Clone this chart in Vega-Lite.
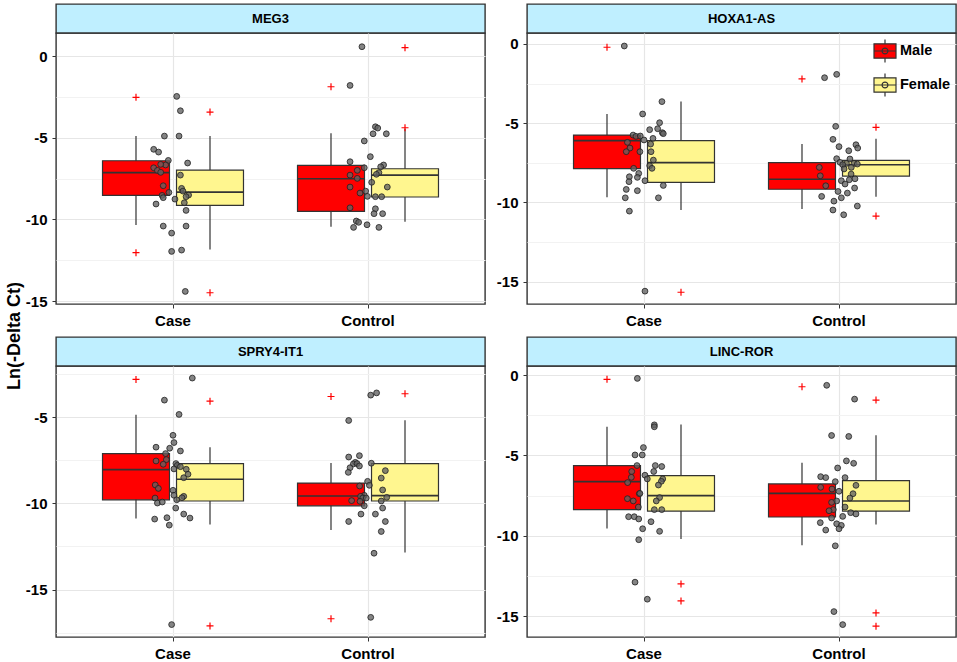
{
  "$schema": "https://vega.github.io/schema/vega-lite/v6.json",
  "padding": {"left": 0, "top": 3, "right": 3, "bottom": 0},
  "background": "white",
  "datasets": {
    "boxes": [
      {"gene": "MEG3", "group": "Case", "sex": "Male", "lo": -10.35, "q1": -8.53, "med": -7.14, "q3": -6.41, "hi": -4.90},
      {"gene": "MEG3", "group": "Case", "sex": "Female", "lo": -11.84, "q1": -9.14, "med": -8.33, "q3": -6.98, "hi": -4.90},
      {"gene": "MEG3", "group": "Control", "sex": "Male", "lo": -10.45, "q1": -9.51, "med": -7.51, "q3": -6.69, "hi": -4.73},
      {"gene": "MEG3", "group": "Control", "sex": "Female", "lo": -10.14, "q1": -8.63, "med": -7.29, "q3": -6.90, "hi": -4.45},
      {"gene": "HOXA1-AS", "group": "Case", "sex": "Male", "lo": -9.68, "q1": -7.87, "med": -6.10, "q3": -5.75, "hi": -4.42},
      {"gene": "HOXA1-AS", "group": "Case", "sex": "Female", "lo": -10.48, "q1": -8.73, "med": -7.49, "q3": -6.10, "hi": -3.64},
      {"gene": "HOXA1-AS", "group": "Control", "sex": "Male", "lo": -10.42, "q1": -9.17, "med": -8.54, "q3": -7.49, "hi": -6.31},
      {"gene": "HOXA1-AS", "group": "Control", "sex": "Female", "lo": -9.64, "q1": -8.34, "med": -7.62, "q3": -7.35, "hi": -5.98},
      {"gene": "SPRY4-IT1", "group": "Case", "sex": "Male", "lo": -10.87, "q1": -9.79, "med": -8.04, "q3": -7.11, "hi": -4.86},
      {"gene": "SPRY4-IT1", "group": "Case", "sex": "Female", "lo": -11.22, "q1": -9.86, "med": -8.60, "q3": -7.69, "hi": -6.74},
      {"gene": "SPRY4-IT1", "group": "Control", "sex": "Male", "lo": -11.55, "q1": -10.14, "med": -9.57, "q3": -8.82, "hi": -7.66},
      {"gene": "SPRY4-IT1", "group": "Control", "sex": "Female", "lo": -12.85, "q1": -9.86, "med": -9.55, "q3": -7.69, "hi": -5.17},
      {"gene": "LINC-ROR", "group": "Case", "sex": "Male", "lo": -9.54, "q1": -8.37, "med": -6.63, "q3": -5.63, "hi": -3.22},
      {"gene": "LINC-ROR", "group": "Case", "sex": "Female", "lo": -10.20, "q1": -8.46, "med": -7.50, "q3": -6.25, "hi": -3.07},
      {"gene": "LINC-ROR", "group": "Control", "sex": "Male", "lo": -10.58, "q1": -8.83, "med": -7.36, "q3": -6.77, "hi": -5.46},
      {"gene": "LINC-ROR", "group": "Control", "sex": "Female", "lo": -9.29, "q1": -8.46, "med": -7.83, "q3": -6.57, "hi": -3.74}
    ],
    "outliers": [
      {"gene": "MEG3", "group": "Case", "sex": "Male", "value": -2.53},
      {"gene": "MEG3", "group": "Case", "sex": "Male", "value": -12.04},
      {"gene": "MEG3", "group": "Case", "sex": "Female", "value": -3.43},
      {"gene": "MEG3", "group": "Case", "sex": "Female", "value": -14.49},
      {"gene": "MEG3", "group": "Control", "sex": "Male", "value": -1.88},
      {"gene": "MEG3", "group": "Control", "sex": "Female", "value": 0.51},
      {"gene": "MEG3", "group": "Control", "sex": "Female", "value": -4.39},
      {"gene": "HOXA1-AS", "group": "Case", "sex": "Male", "value": -0.21},
      {"gene": "HOXA1-AS", "group": "Case", "sex": "Female", "value": -15.67},
      {"gene": "HOXA1-AS", "group": "Control", "sex": "Male", "value": -2.21},
      {"gene": "HOXA1-AS", "group": "Control", "sex": "Female", "value": -5.26},
      {"gene": "HOXA1-AS", "group": "Control", "sex": "Female", "value": -10.86},
      {"gene": "SPRY4-IT1", "group": "Case", "sex": "Male", "value": -2.81},
      {"gene": "SPRY4-IT1", "group": "Case", "sex": "Female", "value": -4.07},
      {"gene": "SPRY4-IT1", "group": "Case", "sex": "Female", "value": -17.11},
      {"gene": "SPRY4-IT1", "group": "Control", "sex": "Male", "value": -3.80},
      {"gene": "SPRY4-IT1", "group": "Control", "sex": "Male", "value": -16.69},
      {"gene": "SPRY4-IT1", "group": "Control", "sex": "Female", "value": -3.64},
      {"gene": "LINC-ROR", "group": "Case", "sex": "Male", "value": -0.27},
      {"gene": "LINC-ROR", "group": "Case", "sex": "Female", "value": -12.99},
      {"gene": "LINC-ROR", "group": "Case", "sex": "Female", "value": -14.05},
      {"gene": "LINC-ROR", "group": "Control", "sex": "Male", "value": -0.73},
      {"gene": "LINC-ROR", "group": "Control", "sex": "Female", "value": -1.56},
      {"gene": "LINC-ROR", "group": "Control", "sex": "Female", "value": -14.79},
      {"gene": "LINC-ROR", "group": "Control", "sex": "Female", "value": -15.62}
    ],
    "points": [
      {"gene": "MEG3", "group": "Case", "jitter": 0.019, "value": -2.47},
      {"gene": "MEG3", "group": "Case", "jitter": 0.038, "value": -3.35},
      {"gene": "MEG3", "group": "Case", "jitter": -0.044, "value": -4.90},
      {"gene": "MEG3", "group": "Case", "jitter": 0.031, "value": -4.90},
      {"gene": "MEG3", "group": "Case", "jitter": -0.099, "value": -5.71},
      {"gene": "MEG3", "group": "Case", "jitter": -0.074, "value": -5.88},
      {"gene": "MEG3", "group": "Case", "jitter": -0.024, "value": -6.39},
      {"gene": "MEG3", "group": "Case", "jitter": 0.075, "value": -6.55},
      {"gene": "MEG3", "group": "Case", "jitter": -0.038, "value": -6.67},
      {"gene": "MEG3", "group": "Case", "jitter": -0.063, "value": -6.63},
      {"gene": "MEG3", "group": "Case", "jitter": -0.099, "value": -6.84},
      {"gene": "MEG3", "group": "Case", "jitter": -0.080, "value": -7.00},
      {"gene": "MEG3", "group": "Case", "jitter": -0.063, "value": -7.12},
      {"gene": "MEG3", "group": "Case", "jitter": 0.038, "value": -7.29},
      {"gene": "MEG3", "group": "Case", "jitter": -0.050, "value": -7.94},
      {"gene": "MEG3", "group": "Case", "jitter": 0.044, "value": -8.10},
      {"gene": "MEG3", "group": "Case", "jitter": 0.051, "value": -8.27},
      {"gene": "MEG3", "group": "Case", "jitter": -0.021, "value": -8.35},
      {"gene": "MEG3", "group": "Case", "jitter": -0.056, "value": -8.53},
      {"gene": "MEG3", "group": "Case", "jitter": 0.080, "value": -8.51},
      {"gene": "MEG3", "group": "Case", "jitter": -0.050, "value": -8.67},
      {"gene": "MEG3", "group": "Case", "jitter": 0.010, "value": -8.76},
      {"gene": "MEG3", "group": "Case", "jitter": 0.067, "value": -8.61},
      {"gene": "MEG3", "group": "Case", "jitter": 0.058, "value": -8.98},
      {"gene": "MEG3", "group": "Case", "jitter": -0.087, "value": -9.06},
      {"gene": "MEG3", "group": "Case", "jitter": 0.067, "value": -9.45},
      {"gene": "MEG3", "group": "Case", "jitter": -0.050, "value": -10.41},
      {"gene": "MEG3", "group": "Case", "jitter": 0.067, "value": -10.41},
      {"gene": "MEG3", "group": "Case", "jitter": -0.007, "value": -10.84},
      {"gene": "MEG3", "group": "Case", "jitter": -0.007, "value": -11.96},
      {"gene": "MEG3", "group": "Case", "jitter": 0.044, "value": -11.88},
      {"gene": "MEG3", "group": "Case", "jitter": 0.063, "value": -14.41},
      {"gene": "MEG3", "group": "Control", "jitter": -0.031, "value": 0.57},
      {"gene": "MEG3", "group": "Control", "jitter": -0.092, "value": -1.80},
      {"gene": "MEG3", "group": "Control", "jitter": 0.038, "value": -4.33},
      {"gene": "MEG3", "group": "Control", "jitter": 0.050, "value": -4.41},
      {"gene": "MEG3", "group": "Control", "jitter": 0.026, "value": -4.76},
      {"gene": "MEG3", "group": "Control", "jitter": 0.094, "value": -4.76},
      {"gene": "MEG3", "group": "Control", "jitter": -0.019, "value": -5.20},
      {"gene": "MEG3", "group": "Control", "jitter": 0.012, "value": -6.16},
      {"gene": "MEG3", "group": "Control", "jitter": -0.092, "value": -6.47},
      {"gene": "MEG3", "group": "Control", "jitter": 0.080, "value": -6.67},
      {"gene": "MEG3", "group": "Control", "jitter": 0.065, "value": -6.78},
      {"gene": "MEG3", "group": "Control", "jitter": -0.019, "value": -6.84},
      {"gene": "MEG3", "group": "Control", "jitter": -0.055, "value": -7.00},
      {"gene": "MEG3", "group": "Control", "jitter": -0.092, "value": -7.29},
      {"gene": "MEG3", "group": "Control", "jitter": 0.056, "value": -7.14},
      {"gene": "MEG3", "group": "Control", "jitter": 0.043, "value": -7.24},
      {"gene": "MEG3", "group": "Control", "jitter": -0.055, "value": -7.49},
      {"gene": "MEG3", "group": "Control", "jitter": 0.019, "value": -7.73},
      {"gene": "MEG3", "group": "Control", "jitter": -0.092, "value": -8.02},
      {"gene": "MEG3", "group": "Control", "jitter": 0.099, "value": -8.02},
      {"gene": "MEG3", "group": "Control", "jitter": -0.012, "value": -8.27},
      {"gene": "MEG3", "group": "Control", "jitter": -0.041, "value": -8.39},
      {"gene": "MEG3", "group": "Control", "jitter": -0.003, "value": -8.59},
      {"gene": "MEG3", "group": "Control", "jitter": 0.038, "value": -8.61},
      {"gene": "MEG3", "group": "Control", "jitter": 0.070, "value": -8.61},
      {"gene": "MEG3", "group": "Control", "jitter": -0.092, "value": -9.29},
      {"gene": "MEG3", "group": "Control", "jitter": 0.038, "value": -9.35},
      {"gene": "MEG3", "group": "Control", "jitter": 0.031, "value": -9.65},
      {"gene": "MEG3", "group": "Control", "jitter": 0.075, "value": -9.65},
      {"gene": "MEG3", "group": "Control", "jitter": -0.060, "value": -10.10},
      {"gene": "MEG3", "group": "Control", "jitter": -0.048, "value": -10.18},
      {"gene": "MEG3", "group": "Control", "jitter": -0.074, "value": -10.49},
      {"gene": "MEG3", "group": "Control", "jitter": -0.005, "value": -10.33},
      {"gene": "MEG3", "group": "Control", "jitter": 0.056, "value": -10.49},
      {"gene": "HOXA1-AS", "group": "Case", "jitter": -0.101, "value": -0.13},
      {"gene": "HOXA1-AS", "group": "Case", "jitter": 0.092, "value": -3.64},
      {"gene": "HOXA1-AS", "group": "Case", "jitter": -0.007, "value": -4.42},
      {"gene": "HOXA1-AS", "group": "Case", "jitter": 0.080, "value": -4.97},
      {"gene": "HOXA1-AS", "group": "Case", "jitter": 0.029, "value": -5.41},
      {"gene": "HOXA1-AS", "group": "Case", "jitter": 0.070, "value": -5.35},
      {"gene": "HOXA1-AS", "group": "Case", "jitter": 0.094, "value": -5.60},
      {"gene": "HOXA1-AS", "group": "Case", "jitter": 0.099, "value": -5.66},
      {"gene": "HOXA1-AS", "group": "Case", "jitter": -0.056, "value": -5.75},
      {"gene": "HOXA1-AS", "group": "Case", "jitter": -0.041, "value": -5.83},
      {"gene": "HOXA1-AS", "group": "Case", "jitter": -0.019, "value": -5.81},
      {"gene": "HOXA1-AS", "group": "Case", "jitter": 0.046, "value": -5.96},
      {"gene": "HOXA1-AS", "group": "Case", "jitter": 0.000, "value": -6.06},
      {"gene": "HOXA1-AS", "group": "Case", "jitter": -0.085, "value": -6.21},
      {"gene": "HOXA1-AS", "group": "Case", "jitter": -0.072, "value": -6.57},
      {"gene": "HOXA1-AS", "group": "Case", "jitter": 0.034, "value": -6.32},
      {"gene": "HOXA1-AS", "group": "Case", "jitter": -0.091, "value": -6.80},
      {"gene": "HOXA1-AS", "group": "Case", "jitter": -0.021, "value": -6.80},
      {"gene": "HOXA1-AS", "group": "Case", "jitter": 0.036, "value": -6.80},
      {"gene": "HOXA1-AS", "group": "Case", "jitter": 0.048, "value": -7.33},
      {"gene": "HOXA1-AS", "group": "Case", "jitter": 0.029, "value": -7.68},
      {"gene": "HOXA1-AS", "group": "Case", "jitter": 0.041, "value": -7.85},
      {"gene": "HOXA1-AS", "group": "Case", "jitter": -0.053, "value": -7.85},
      {"gene": "HOXA1-AS", "group": "Case", "jitter": -0.027, "value": -8.17},
      {"gene": "HOXA1-AS", "group": "Case", "jitter": -0.075, "value": -8.38},
      {"gene": "HOXA1-AS", "group": "Case", "jitter": -0.034, "value": -8.42},
      {"gene": "HOXA1-AS", "group": "Case", "jitter": -0.077, "value": -8.69},
      {"gene": "HOXA1-AS", "group": "Case", "jitter": 0.005, "value": -8.63},
      {"gene": "HOXA1-AS", "group": "Case", "jitter": 0.099, "value": -8.93},
      {"gene": "HOXA1-AS", "group": "Case", "jitter": -0.091, "value": -9.18},
      {"gene": "HOXA1-AS", "group": "Case", "jitter": -0.034, "value": -9.26},
      {"gene": "HOXA1-AS", "group": "Case", "jitter": -0.096, "value": -9.71},
      {"gene": "HOXA1-AS", "group": "Case", "jitter": 0.074, "value": -9.71},
      {"gene": "HOXA1-AS", "group": "Case", "jitter": -0.075, "value": -10.55},
      {"gene": "HOXA1-AS", "group": "Case", "jitter": 0.005, "value": -15.60},
      {"gene": "HOXA1-AS", "group": "Control", "jitter": -0.012, "value": -1.92},
      {"gene": "HOXA1-AS", "group": "Control", "jitter": -0.074, "value": -2.13},
      {"gene": "HOXA1-AS", "group": "Control", "jitter": -0.017, "value": -5.20},
      {"gene": "HOXA1-AS", "group": "Control", "jitter": -0.031, "value": -6.02},
      {"gene": "HOXA1-AS", "group": "Control", "jitter": 0.000, "value": -6.48},
      {"gene": "HOXA1-AS", "group": "Control", "jitter": 0.087, "value": -6.36},
      {"gene": "HOXA1-AS", "group": "Control", "jitter": 0.096, "value": -6.57},
      {"gene": "HOXA1-AS", "group": "Control", "jitter": 0.050, "value": -6.74},
      {"gene": "HOXA1-AS", "group": "Control", "jitter": -0.012, "value": -7.24},
      {"gene": "HOXA1-AS", "group": "Control", "jitter": 0.056, "value": -7.26},
      {"gene": "HOXA1-AS", "group": "Control", "jitter": 0.005, "value": -7.47},
      {"gene": "HOXA1-AS", "group": "Control", "jitter": 0.038, "value": -7.54},
      {"gene": "HOXA1-AS", "group": "Control", "jitter": 0.077, "value": -7.54},
      {"gene": "HOXA1-AS", "group": "Control", "jitter": 0.019, "value": -7.62},
      {"gene": "HOXA1-AS", "group": "Control", "jitter": 0.094, "value": -7.58},
      {"gene": "HOXA1-AS", "group": "Control", "jitter": 0.063, "value": -7.79},
      {"gene": "HOXA1-AS", "group": "Control", "jitter": -0.101, "value": -7.79},
      {"gene": "HOXA1-AS", "group": "Control", "jitter": 0.026, "value": -7.89},
      {"gene": "HOXA1-AS", "group": "Control", "jitter": 0.062, "value": -8.21},
      {"gene": "HOXA1-AS", "group": "Control", "jitter": -0.096, "value": -8.32},
      {"gene": "HOXA1-AS", "group": "Control", "jitter": 0.012, "value": -8.63},
      {"gene": "HOXA1-AS", "group": "Control", "jitter": 0.053, "value": -8.57},
      {"gene": "HOXA1-AS", "group": "Control", "jitter": 0.082, "value": -8.51},
      {"gene": "HOXA1-AS", "group": "Control", "jitter": 0.031, "value": -8.84},
      {"gene": "HOXA1-AS", "group": "Control", "jitter": -0.068, "value": -8.95},
      {"gene": "HOXA1-AS", "group": "Control", "jitter": 0.080, "value": -9.09},
      {"gene": "HOXA1-AS", "group": "Control", "jitter": -0.005, "value": -9.31},
      {"gene": "HOXA1-AS", "group": "Control", "jitter": 0.043, "value": -9.41},
      {"gene": "HOXA1-AS", "group": "Control", "jitter": -0.089, "value": -9.62},
      {"gene": "HOXA1-AS", "group": "Control", "jitter": 0.012, "value": -9.71},
      {"gene": "HOXA1-AS", "group": "Control", "jitter": -0.026, "value": -9.92},
      {"gene": "HOXA1-AS", "group": "Control", "jitter": 0.094, "value": -10.23},
      {"gene": "HOXA1-AS", "group": "Control", "jitter": -0.031, "value": -10.48},
      {"gene": "HOXA1-AS", "group": "Control", "jitter": 0.024, "value": -10.78},
      {"gene": "SPRY4-IT1", "group": "Case", "jitter": 0.099, "value": -2.73},
      {"gene": "SPRY4-IT1", "group": "Case", "jitter": -0.044, "value": -4.01},
      {"gene": "SPRY4-IT1", "group": "Case", "jitter": 0.031, "value": -4.84},
      {"gene": "SPRY4-IT1", "group": "Case", "jitter": 0.000, "value": -6.05},
      {"gene": "SPRY4-IT1", "group": "Case", "jitter": 0.005, "value": -6.47},
      {"gene": "SPRY4-IT1", "group": "Case", "jitter": -0.087, "value": -6.74},
      {"gene": "SPRY4-IT1", "group": "Case", "jitter": -0.017, "value": -6.80},
      {"gene": "SPRY4-IT1", "group": "Case", "jitter": 0.038, "value": -6.96},
      {"gene": "SPRY4-IT1", "group": "Case", "jitter": -0.038, "value": -7.11},
      {"gene": "SPRY4-IT1", "group": "Case", "jitter": -0.087, "value": -7.54},
      {"gene": "SPRY4-IT1", "group": "Case", "jitter": -0.034, "value": -7.46},
      {"gene": "SPRY4-IT1", "group": "Case", "jitter": -0.050, "value": -7.73},
      {"gene": "SPRY4-IT1", "group": "Case", "jitter": 0.015, "value": -7.69},
      {"gene": "SPRY4-IT1", "group": "Case", "jitter": 0.022, "value": -7.79},
      {"gene": "SPRY4-IT1", "group": "Case", "jitter": 0.038, "value": -7.87},
      {"gene": "SPRY4-IT1", "group": "Case", "jitter": 0.005, "value": -8.00},
      {"gene": "SPRY4-IT1", "group": "Case", "jitter": 0.068, "value": -8.02},
      {"gene": "SPRY4-IT1", "group": "Case", "jitter": 0.077, "value": -8.31},
      {"gene": "SPRY4-IT1", "group": "Case", "jitter": 0.055, "value": -8.51},
      {"gene": "SPRY4-IT1", "group": "Case", "jitter": -0.091, "value": -8.93},
      {"gene": "SPRY4-IT1", "group": "Case", "jitter": -0.075, "value": -9.13},
      {"gene": "SPRY4-IT1", "group": "Case", "jitter": 0.000, "value": -9.24},
      {"gene": "SPRY4-IT1", "group": "Case", "jitter": 0.005, "value": -9.53},
      {"gene": "SPRY4-IT1", "group": "Case", "jitter": 0.055, "value": -9.59},
      {"gene": "SPRY4-IT1", "group": "Case", "jitter": -0.092, "value": -9.69},
      {"gene": "SPRY4-IT1", "group": "Case", "jitter": 0.019, "value": -9.79},
      {"gene": "SPRY4-IT1", "group": "Case", "jitter": -0.080, "value": -9.98},
      {"gene": "SPRY4-IT1", "group": "Case", "jitter": -0.055, "value": -9.92},
      {"gene": "SPRY4-IT1", "group": "Case", "jitter": 0.014, "value": -10.27},
      {"gene": "SPRY4-IT1", "group": "Case", "jitter": 0.055, "value": -10.62},
      {"gene": "SPRY4-IT1", "group": "Case", "jitter": -0.094, "value": -10.91},
      {"gene": "SPRY4-IT1", "group": "Case", "jitter": -0.031, "value": -10.83},
      {"gene": "SPRY4-IT1", "group": "Case", "jitter": 0.087, "value": -10.85},
      {"gene": "SPRY4-IT1", "group": "Case", "jitter": -0.019, "value": -11.26},
      {"gene": "SPRY4-IT1", "group": "Case", "jitter": -0.007, "value": -17.03},
      {"gene": "SPRY4-IT1", "group": "Case", "jitter": 0.046, "value": -9.67},
      {"gene": "SPRY4-IT1", "group": "Control", "jitter": 0.014, "value": -3.72},
      {"gene": "SPRY4-IT1", "group": "Control", "jitter": 0.044, "value": -3.59},
      {"gene": "SPRY4-IT1", "group": "Control", "jitter": -0.099, "value": -5.19},
      {"gene": "SPRY4-IT1", "group": "Control", "jitter": -0.099, "value": -7.31},
      {"gene": "SPRY4-IT1", "group": "Control", "jitter": -0.044, "value": -7.23},
      {"gene": "SPRY4-IT1", "group": "Control", "jitter": -0.065, "value": -7.62},
      {"gene": "SPRY4-IT1", "group": "Control", "jitter": -0.075, "value": -7.71},
      {"gene": "SPRY4-IT1", "group": "Control", "jitter": -0.056, "value": -7.69},
      {"gene": "SPRY4-IT1", "group": "Control", "jitter": -0.044, "value": -7.83},
      {"gene": "SPRY4-IT1", "group": "Control", "jitter": -0.092, "value": -7.93},
      {"gene": "SPRY4-IT1", "group": "Control", "jitter": 0.017, "value": -7.67},
      {"gene": "SPRY4-IT1", "group": "Control", "jitter": -0.101, "value": -8.20},
      {"gene": "SPRY4-IT1", "group": "Control", "jitter": 0.089, "value": -8.10},
      {"gene": "SPRY4-IT1", "group": "Control", "jitter": 0.068, "value": -8.53},
      {"gene": "SPRY4-IT1", "group": "Control", "jitter": -0.002, "value": -8.72},
      {"gene": "SPRY4-IT1", "group": "Control", "jitter": 0.007, "value": -8.95},
      {"gene": "SPRY4-IT1", "group": "Control", "jitter": -0.043, "value": -8.99},
      {"gene": "SPRY4-IT1", "group": "Control", "jitter": 0.075, "value": -9.22},
      {"gene": "SPRY4-IT1", "group": "Control", "jitter": -0.019, "value": -9.53},
      {"gene": "SPRY4-IT1", "group": "Control", "jitter": -0.038, "value": -9.59},
      {"gene": "SPRY4-IT1", "group": "Control", "jitter": -0.027, "value": -9.69},
      {"gene": "SPRY4-IT1", "group": "Control", "jitter": -0.009, "value": -9.69},
      {"gene": "SPRY4-IT1", "group": "Control", "jitter": 0.096, "value": -9.65},
      {"gene": "SPRY4-IT1", "group": "Control", "jitter": -0.084, "value": -9.84},
      {"gene": "SPRY4-IT1", "group": "Control", "jitter": -0.041, "value": -9.88},
      {"gene": "SPRY4-IT1", "group": "Control", "jitter": 0.068, "value": -9.86},
      {"gene": "SPRY4-IT1", "group": "Control", "jitter": -0.019, "value": -10.14},
      {"gene": "SPRY4-IT1", "group": "Control", "jitter": 0.075, "value": -10.27},
      {"gene": "SPRY4-IT1", "group": "Control", "jitter": -0.036, "value": -10.62},
      {"gene": "SPRY4-IT1", "group": "Control", "jitter": 0.038, "value": -10.62},
      {"gene": "SPRY4-IT1", "group": "Control", "jitter": -0.099, "value": -11.05},
      {"gene": "SPRY4-IT1", "group": "Control", "jitter": 0.089, "value": -11.05},
      {"gene": "SPRY4-IT1", "group": "Control", "jitter": 0.068, "value": -11.63},
      {"gene": "SPRY4-IT1", "group": "Control", "jitter": 0.031, "value": -12.89},
      {"gene": "SPRY4-IT1", "group": "Control", "jitter": 0.014, "value": -16.61},
      {"gene": "LINC-ROR", "group": "Case", "jitter": -0.034, "value": -0.21},
      {"gene": "LINC-ROR", "group": "Case", "jitter": 0.053, "value": -3.10},
      {"gene": "LINC-ROR", "group": "Case", "jitter": 0.053, "value": -3.22},
      {"gene": "LINC-ROR", "group": "Case", "jitter": -0.003, "value": -4.51},
      {"gene": "LINC-ROR", "group": "Case", "jitter": -0.046, "value": -4.97},
      {"gene": "LINC-ROR", "group": "Case", "jitter": -0.009, "value": -4.97},
      {"gene": "LINC-ROR", "group": "Case", "jitter": -0.036, "value": -5.63},
      {"gene": "LINC-ROR", "group": "Case", "jitter": 0.058, "value": -5.63},
      {"gene": "LINC-ROR", "group": "Case", "jitter": 0.091, "value": -5.69},
      {"gene": "LINC-ROR", "group": "Case", "jitter": 0.050, "value": -6.00},
      {"gene": "LINC-ROR", "group": "Case", "jitter": -0.063, "value": -6.00},
      {"gene": "LINC-ROR", "group": "Case", "jitter": -0.065, "value": -6.36},
      {"gene": "LINC-ROR", "group": "Case", "jitter": 0.005, "value": -6.23},
      {"gene": "LINC-ROR", "group": "Case", "jitter": 0.017, "value": -6.46},
      {"gene": "LINC-ROR", "group": "Case", "jitter": 0.096, "value": -6.46},
      {"gene": "LINC-ROR", "group": "Case", "jitter": 0.089, "value": -6.61},
      {"gene": "LINC-ROR", "group": "Case", "jitter": -0.084, "value": -6.69},
      {"gene": "LINC-ROR", "group": "Case", "jitter": 0.074, "value": -6.84},
      {"gene": "LINC-ROR", "group": "Case", "jitter": -0.024, "value": -7.38},
      {"gene": "LINC-ROR", "group": "Case", "jitter": -0.021, "value": -7.36},
      {"gene": "LINC-ROR", "group": "Case", "jitter": 0.080, "value": -7.62},
      {"gene": "LINC-ROR", "group": "Case", "jitter": -0.085, "value": -7.69},
      {"gene": "LINC-ROR", "group": "Case", "jitter": -0.055, "value": -7.83},
      {"gene": "LINC-ROR", "group": "Case", "jitter": 0.063, "value": -7.83},
      {"gene": "LINC-ROR", "group": "Case", "jitter": -0.029, "value": -8.21},
      {"gene": "LINC-ROR", "group": "Case", "jitter": 0.053, "value": -8.37},
      {"gene": "LINC-ROR", "group": "Case", "jitter": 0.091, "value": -8.37},
      {"gene": "LINC-ROR", "group": "Case", "jitter": -0.079, "value": -8.81},
      {"gene": "LINC-ROR", "group": "Case", "jitter": -0.050, "value": -8.81},
      {"gene": "LINC-ROR", "group": "Case", "jitter": -0.027, "value": -8.95},
      {"gene": "LINC-ROR", "group": "Case", "jitter": 0.036, "value": -9.12},
      {"gene": "LINC-ROR", "group": "Case", "jitter": -0.007, "value": -9.56},
      {"gene": "LINC-ROR", "group": "Case", "jitter": 0.080, "value": -9.72},
      {"gene": "LINC-ROR", "group": "Case", "jitter": -0.027, "value": -10.24},
      {"gene": "LINC-ROR", "group": "Case", "jitter": -0.046, "value": -12.88},
      {"gene": "LINC-ROR", "group": "Case", "jitter": 0.017, "value": -13.94},
      {"gene": "LINC-ROR", "group": "Control", "jitter": -0.063, "value": -0.64},
      {"gene": "LINC-ROR", "group": "Control", "jitter": 0.080, "value": -1.50},
      {"gene": "LINC-ROR", "group": "Control", "jitter": -0.038, "value": -3.76},
      {"gene": "LINC-ROR", "group": "Control", "jitter": 0.050, "value": -3.82},
      {"gene": "LINC-ROR", "group": "Control", "jitter": 0.038, "value": -5.34},
      {"gene": "LINC-ROR", "group": "Control", "jitter": 0.075, "value": -5.49},
      {"gene": "LINC-ROR", "group": "Control", "jitter": -0.007, "value": -5.78},
      {"gene": "LINC-ROR", "group": "Control", "jitter": -0.094, "value": -6.32},
      {"gene": "LINC-ROR", "group": "Control", "jitter": -0.068, "value": -6.38},
      {"gene": "LINC-ROR", "group": "Control", "jitter": 0.031, "value": -6.38},
      {"gene": "LINC-ROR", "group": "Control", "jitter": -0.019, "value": -6.63},
      {"gene": "LINC-ROR", "group": "Control", "jitter": 0.087, "value": -6.86},
      {"gene": "LINC-ROR", "group": "Control", "jitter": -0.094, "value": -6.98},
      {"gene": "LINC-ROR", "group": "Control", "jitter": -0.036, "value": -7.09},
      {"gene": "LINC-ROR", "group": "Control", "jitter": 0.000, "value": -7.23},
      {"gene": "LINC-ROR", "group": "Control", "jitter": 0.072, "value": -7.38},
      {"gene": "LINC-ROR", "group": "Control", "jitter": 0.056, "value": -7.65},
      {"gene": "LINC-ROR", "group": "Control", "jitter": -0.012, "value": -7.83},
      {"gene": "LINC-ROR", "group": "Control", "jitter": -0.038, "value": -7.92},
      {"gene": "LINC-ROR", "group": "Control", "jitter": 0.031, "value": -8.21},
      {"gene": "LINC-ROR", "group": "Control", "jitter": -0.029, "value": -8.37},
      {"gene": "LINC-ROR", "group": "Control", "jitter": -0.051, "value": -8.44},
      {"gene": "LINC-ROR", "group": "Control", "jitter": 0.060, "value": -8.56},
      {"gene": "LINC-ROR", "group": "Control", "jitter": 0.087, "value": -8.64},
      {"gene": "LINC-ROR", "group": "Control", "jitter": 0.019, "value": -8.79},
      {"gene": "LINC-ROR", "group": "Control", "jitter": -0.038, "value": -8.89},
      {"gene": "LINC-ROR", "group": "Control", "jitter": -0.096, "value": -9.18},
      {"gene": "LINC-ROR", "group": "Control", "jitter": -0.012, "value": -9.25},
      {"gene": "LINC-ROR", "group": "Control", "jitter": 0.012, "value": -9.35},
      {"gene": "LINC-ROR", "group": "Control", "jitter": 0.000, "value": -9.56},
      {"gene": "LINC-ROR", "group": "Control", "jitter": -0.068, "value": -9.64},
      {"gene": "LINC-ROR", "group": "Control", "jitter": -0.019, "value": -10.62},
      {"gene": "LINC-ROR", "group": "Control", "jitter": -0.026, "value": -14.71},
      {"gene": "LINC-ROR", "group": "Control", "jitter": 0.019, "value": -15.52}
    ]
  },
  "spacing": 0,
  "resolve": {"legend": {"fill": "independent"}},
  "hconcat": [
    {
      "width": 22,
      "height": 630,
      "view": {"stroke": null},
      "data": {"values": [{"t": "Ln(-Delta Ct)"}]},
      "mark": {"type": "text", "angle": 270, "fontSize": 18, "fontWeight": "bold", "color": "#000000", "dx": -17, "dy": 4},
      "encoding": {"text": {"field": "t", "type": "nominal"}}
    },
    {
      "spacing": 6,
      "resolve": {"legend": {"fill": "independent"}},
      "vconcat": [
        {
          "spacing": 9,
          "resolve": {"legend": {"fill": "independent"}},
          "hconcat": [
            {
              "spacing": 0,
              "bounds": "flush",
              "resolve": {"legend": {"fill": "independent"}},
              "vconcat": [
                {
                  "width": 429, "height": 29,
                  "data": {"values": [{"gene": "MEG3"}]},
                  "view": {"fill": "#BFEFFF", "stroke": "#333333", "strokeWidth": 1.4},
                  "mark": {"type": "text", "fontSize": 13, "fontWeight": "bold", "color": "#000000"},
                  "encoding": {"text": {"field": "gene", "type": "nominal"}}
                },
                {
                  "width": 429, "height": 271,
                  "view": {"stroke": "#333333", "strokeWidth": 1.4},
                  "resolve": {"scale": {"xOffset": "independent"}},
                  "layer": [
                    {
                      "data": {"name": "boxes"},
                      "transform": [{"filter": "datum.gene == 'MEG3'"}],
                      "mark": {"type": "rule", "color": "#333333", "strokeWidth": 1.2},
                      "encoding": {
                        "x": {"field": "group", "type": "nominal", "title": null, "scale": {"domain": ["Case", "Control"], "paddingInner": 0, "paddingOuter": 0.1}},
                        "xOffset": {"field": "sex", "type": "nominal", "scale": {"type": "band", "domain": ["Male", "Female"], "paddingInner": 0.095, "paddingOuter": 0.365}},
                        "y": {"field": "lo", "type": "quantitative", "title": null, "scale": {"domain": [-15.18, 1.41], "nice": false, "zero": false}, "axis": {"values": [0, -2.5, -5, -7.5, -10, -12.5, -15]}},
                        "y2": {"field": "hi"}
                      }
                    },
                    {
                      "data": {"name": "boxes"},
                      "transform": [{"filter": "datum.gene == 'MEG3'"}],
                      "mark": {"type": "bar", "stroke": "#333333", "strokeWidth": 1.2},
                      "encoding": {
                        "x": {"field": "group", "type": "nominal"},
                        "xOffset": {"field": "sex", "type": "nominal", "scale": {"type": "band", "domain": ["Male", "Female"], "paddingInner": 0.095, "paddingOuter": 0.365}},
                        "y": {"field": "q3", "type": "quantitative"},
                        "y2": {"field": "q1"},
                        "fill": {"field": "sex", "type": "nominal", "scale": {"domain": ["Male", "Female"], "range": ["#FF0000", "#FFF68F"]}, "legend": null}
                      }
                    },
                    {
                      "data": {"name": "boxes"},
                      "transform": [{"filter": "datum.gene == 'MEG3'"}],
                      "mark": {"type": "bar", "fillOpacity": 0, "stroke": "#333333", "strokeWidth": 1.6},
                      "encoding": {
                        "x": {"field": "group", "type": "nominal"},
                        "xOffset": {"field": "sex", "type": "nominal", "scale": {"type": "band", "domain": ["Male", "Female"], "paddingInner": 0.095, "paddingOuter": 0.365}},
                        "y": {"field": "med", "type": "quantitative"},
                        "y2": {"field": "med"}
                      }
                    },
                    {
                      "data": {"name": "outliers"},
                      "transform": [{"filter": "datum.gene == 'MEG3'"}],
                      "mark": {"type": "point", "shape": "M-1,0H1M0,-1V1", "filled": false, "stroke": "#FF0000", "strokeWidth": 1.2, "size": 49, "opacity": 1},
                      "encoding": {
                        "x": {"field": "group", "type": "nominal"},
                        "xOffset": {"field": "sex", "type": "nominal", "scale": {"type": "band", "domain": ["Male", "Female"], "paddingInner": 0.095, "paddingOuter": 0.365}},
                        "y": {"field": "value", "type": "quantitative"}
                      }
                    },
                    {
                      "data": {"name": "points"},
                      "transform": [{"filter": "datum.gene == 'MEG3'"}],
                      "mark": {"type": "circle", "size": 34, "fill": "#626262", "fillOpacity": 0.78, "stroke": "#222222", "strokeWidth": 0.9, "strokeOpacity": 0.9},
                      "encoding": {
                        "x": {"field": "group", "type": "nominal"},
                        "xOffset": {"field": "jitter", "type": "quantitative", "scale": {"domain": [-0.5, 0.5]}},
                        "y": {"field": "value", "type": "quantitative"}
                      }
                    }
                  ]
                }
              ]
            },
            {
              "spacing": 0,
              "bounds": "flush",
              "resolve": {"legend": {"fill": "independent"}},
              "vconcat": [
                {
                  "width": 429, "height": 29,
                  "data": {"values": [{"gene": "HOXA1-AS"}]},
                  "view": {"fill": "#BFEFFF", "stroke": "#333333", "strokeWidth": 1.4},
                  "mark": {"type": "text", "fontSize": 13, "fontWeight": "bold", "color": "#000000"},
                  "encoding": {"text": {"field": "gene", "type": "nominal"}}
                },
                {
                  "width": 429, "height": 271,
                  "view": {"stroke": "#333333", "strokeWidth": 1.4},
                  "resolve": {"scale": {"xOffset": "independent"}},
                  "layer": [
                    {
                      "data": {"name": "boxes"},
                      "transform": [{"filter": "datum.gene == 'HOXA1-AS'"}],
                      "mark": {"type": "rule", "color": "#333333", "strokeWidth": 1.2},
                      "encoding": {
                        "x": {"field": "group", "type": "nominal", "title": null, "scale": {"domain": ["Case", "Control"], "paddingInner": 0, "paddingOuter": 0.1}},
                        "xOffset": {"field": "sex", "type": "nominal", "scale": {"type": "band", "domain": ["Male", "Female"], "paddingInner": 0.095, "paddingOuter": 0.365}},
                        "y": {"field": "lo", "type": "quantitative", "title": null, "scale": {"domain": [-16.41, 0.69], "nice": false, "zero": false}, "axis": {"values": [0, -2.5, -5, -7.5, -10, -12.5, -15]}},
                        "y2": {"field": "hi"}
                      }
                    },
                    {
                      "data": {"name": "boxes"},
                      "transform": [{"filter": "datum.gene == 'HOXA1-AS'"}],
                      "mark": {"type": "bar", "stroke": "#333333", "strokeWidth": 1.2},
                      "encoding": {
                        "x": {"field": "group", "type": "nominal"},
                        "xOffset": {"field": "sex", "type": "nominal", "scale": {"type": "band", "domain": ["Male", "Female"], "paddingInner": 0.095, "paddingOuter": 0.365}},
                        "y": {"field": "q3", "type": "quantitative"},
                        "y2": {"field": "q1"},
                        "fill": {
                          "field": "sex", "type": "nominal",
                          "scale": {"domain": ["Male", "Female"], "range": ["#FF0000", "#FFF68F"]},
                          "legend": {
                            "orient": "top-right", "offset": 6, "title": null,
                            "symbolType": "M-1,-0.65H1V0.65H-1Z M0,-1.05V-0.65 M0,0.65V1.05 M-1,0H1 M0.27,0A0.27,0.27,0,1,1,-0.27,0A0.27,0.27,0,1,1,0.27,0",
                            "symbolSize": 484, "symbolStrokeColor": "#333333", "symbolStrokeWidth": 1.2, "symbolOpacity": 1,
                            "labelFontSize": 14.5, "labelFontWeight": "bold", "labelColor": "#000000", "labelOffset": 3, "rowPadding": 6
                          }
                        }
                      }
                    },
                    {
                      "data": {"name": "boxes"},
                      "transform": [{"filter": "datum.gene == 'HOXA1-AS'"}],
                      "mark": {"type": "bar", "fillOpacity": 0, "stroke": "#333333", "strokeWidth": 1.6},
                      "encoding": {
                        "x": {"field": "group", "type": "nominal"},
                        "xOffset": {"field": "sex", "type": "nominal", "scale": {"type": "band", "domain": ["Male", "Female"], "paddingInner": 0.095, "paddingOuter": 0.365}},
                        "y": {"field": "med", "type": "quantitative"},
                        "y2": {"field": "med"}
                      }
                    },
                    {
                      "data": {"name": "outliers"},
                      "transform": [{"filter": "datum.gene == 'HOXA1-AS'"}],
                      "mark": {"type": "point", "shape": "M-1,0H1M0,-1V1", "filled": false, "stroke": "#FF0000", "strokeWidth": 1.2, "size": 49, "opacity": 1},
                      "encoding": {
                        "x": {"field": "group", "type": "nominal"},
                        "xOffset": {"field": "sex", "type": "nominal", "scale": {"type": "band", "domain": ["Male", "Female"], "paddingInner": 0.095, "paddingOuter": 0.365}},
                        "y": {"field": "value", "type": "quantitative"}
                      }
                    },
                    {
                      "data": {"name": "points"},
                      "transform": [{"filter": "datum.gene == 'HOXA1-AS'"}],
                      "mark": {"type": "circle", "size": 34, "fill": "#626262", "fillOpacity": 0.78, "stroke": "#222222", "strokeWidth": 0.9, "strokeOpacity": 0.9},
                      "encoding": {
                        "x": {"field": "group", "type": "nominal"},
                        "xOffset": {"field": "jitter", "type": "quantitative", "scale": {"domain": [-0.5, 0.5]}},
                        "y": {"field": "value", "type": "quantitative"}
                      }
                    }
                  ]
                }
              ]
            }
          ]
        },
        {
          "spacing": 9,
          "resolve": {"legend": {"fill": "independent"}},
          "hconcat": [
            {
              "spacing": 0,
              "bounds": "flush",
              "resolve": {"legend": {"fill": "independent"}},
              "vconcat": [
                {
                  "width": 429, "height": 29,
                  "data": {"values": [{"gene": "SPRY4-IT1"}]},
                  "view": {"fill": "#BFEFFF", "stroke": "#333333", "strokeWidth": 1.4},
                  "mark": {"type": "text", "fontSize": 13, "fontWeight": "bold", "color": "#000000"},
                  "encoding": {"text": {"field": "gene", "type": "nominal"}}
                },
                {
                  "width": 429, "height": 271,
                  "view": {"stroke": "#333333", "strokeWidth": 1.4},
                  "resolve": {"scale": {"xOffset": "independent"}},
                  "layer": [
                    {
                      "data": {"name": "boxes"},
                      "transform": [{"filter": "datum.gene == 'SPRY4-IT1'"}],
                      "mark": {"type": "rule", "color": "#333333", "strokeWidth": 1.2},
                      "encoding": {
                        "x": {"field": "group", "type": "nominal", "title": null, "scale": {"domain": ["Case", "Control"], "paddingInner": 0, "paddingOuter": 0.1}},
                        "xOffset": {"field": "sex", "type": "nominal", "scale": {"type": "band", "domain": ["Male", "Female"], "paddingInner": 0.095, "paddingOuter": 0.365}},
                        "y": {"field": "lo", "type": "quantitative", "title": null, "scale": {"domain": [-17.75, -2.03], "nice": false, "zero": false}, "axis": {"values": [-2.5, -5, -7.5, -10, -12.5, -15, -17.5]}},
                        "y2": {"field": "hi"}
                      }
                    },
                    {
                      "data": {"name": "boxes"},
                      "transform": [{"filter": "datum.gene == 'SPRY4-IT1'"}],
                      "mark": {"type": "bar", "stroke": "#333333", "strokeWidth": 1.2},
                      "encoding": {
                        "x": {"field": "group", "type": "nominal"},
                        "xOffset": {"field": "sex", "type": "nominal", "scale": {"type": "band", "domain": ["Male", "Female"], "paddingInner": 0.095, "paddingOuter": 0.365}},
                        "y": {"field": "q3", "type": "quantitative"},
                        "y2": {"field": "q1"},
                        "fill": {"field": "sex", "type": "nominal", "scale": {"domain": ["Male", "Female"], "range": ["#FF0000", "#FFF68F"]}, "legend": null}
                      }
                    },
                    {
                      "data": {"name": "boxes"},
                      "transform": [{"filter": "datum.gene == 'SPRY4-IT1'"}],
                      "mark": {"type": "bar", "fillOpacity": 0, "stroke": "#333333", "strokeWidth": 1.6},
                      "encoding": {
                        "x": {"field": "group", "type": "nominal"},
                        "xOffset": {"field": "sex", "type": "nominal", "scale": {"type": "band", "domain": ["Male", "Female"], "paddingInner": 0.095, "paddingOuter": 0.365}},
                        "y": {"field": "med", "type": "quantitative"},
                        "y2": {"field": "med"}
                      }
                    },
                    {
                      "data": {"name": "outliers"},
                      "transform": [{"filter": "datum.gene == 'SPRY4-IT1'"}],
                      "mark": {"type": "point", "shape": "M-1,0H1M0,-1V1", "filled": false, "stroke": "#FF0000", "strokeWidth": 1.2, "size": 49, "opacity": 1},
                      "encoding": {
                        "x": {"field": "group", "type": "nominal"},
                        "xOffset": {"field": "sex", "type": "nominal", "scale": {"type": "band", "domain": ["Male", "Female"], "paddingInner": 0.095, "paddingOuter": 0.365}},
                        "y": {"field": "value", "type": "quantitative"}
                      }
                    },
                    {
                      "data": {"name": "points"},
                      "transform": [{"filter": "datum.gene == 'SPRY4-IT1'"}],
                      "mark": {"type": "circle", "size": 34, "fill": "#626262", "fillOpacity": 0.78, "stroke": "#222222", "strokeWidth": 0.9, "strokeOpacity": 0.9},
                      "encoding": {
                        "x": {"field": "group", "type": "nominal"},
                        "xOffset": {"field": "jitter", "type": "quantitative", "scale": {"domain": [-0.5, 0.5]}},
                        "y": {"field": "value", "type": "quantitative"}
                      }
                    }
                  ]
                }
              ]
            },
            {
              "spacing": 0,
              "bounds": "flush",
              "resolve": {"legend": {"fill": "independent"}},
              "vconcat": [
                {
                  "width": 429, "height": 29,
                  "data": {"values": [{"gene": "LINC-ROR"}]},
                  "view": {"fill": "#BFEFFF", "stroke": "#333333", "strokeWidth": 1.4},
                  "mark": {"type": "text", "fontSize": 13, "fontWeight": "bold", "color": "#000000"},
                  "encoding": {"text": {"field": "gene", "type": "nominal"}}
                },
                {
                  "width": 429, "height": 271,
                  "view": {"stroke": "#333333", "strokeWidth": 1.4},
                  "resolve": {"scale": {"xOffset": "independent"}},
                  "layer": [
                    {
                      "data": {"name": "boxes"},
                      "transform": [{"filter": "datum.gene == 'LINC-ROR'"}],
                      "mark": {"type": "rule", "color": "#333333", "strokeWidth": 1.2},
                      "encoding": {
                        "x": {"field": "group", "type": "nominal", "title": null, "scale": {"domain": ["Case", "Control"], "paddingInner": 0, "paddingOuter": 0.1}},
                        "xOffset": {"field": "sex", "type": "nominal", "scale": {"type": "band", "domain": ["Male", "Female"], "paddingInner": 0.095, "paddingOuter": 0.365}},
                        "y": {"field": "lo", "type": "quantitative", "title": null, "scale": {"domain": [-16.29, 0.56], "nice": false, "zero": false}, "axis": {"values": [0, -2.5, -5, -7.5, -10, -12.5, -15]}},
                        "y2": {"field": "hi"}
                      }
                    },
                    {
                      "data": {"name": "boxes"},
                      "transform": [{"filter": "datum.gene == 'LINC-ROR'"}],
                      "mark": {"type": "bar", "stroke": "#333333", "strokeWidth": 1.2},
                      "encoding": {
                        "x": {"field": "group", "type": "nominal"},
                        "xOffset": {"field": "sex", "type": "nominal", "scale": {"type": "band", "domain": ["Male", "Female"], "paddingInner": 0.095, "paddingOuter": 0.365}},
                        "y": {"field": "q3", "type": "quantitative"},
                        "y2": {"field": "q1"},
                        "fill": {"field": "sex", "type": "nominal", "scale": {"domain": ["Male", "Female"], "range": ["#FF0000", "#FFF68F"]}, "legend": null}
                      }
                    },
                    {
                      "data": {"name": "boxes"},
                      "transform": [{"filter": "datum.gene == 'LINC-ROR'"}],
                      "mark": {"type": "bar", "fillOpacity": 0, "stroke": "#333333", "strokeWidth": 1.6},
                      "encoding": {
                        "x": {"field": "group", "type": "nominal"},
                        "xOffset": {"field": "sex", "type": "nominal", "scale": {"type": "band", "domain": ["Male", "Female"], "paddingInner": 0.095, "paddingOuter": 0.365}},
                        "y": {"field": "med", "type": "quantitative"},
                        "y2": {"field": "med"}
                      }
                    },
                    {
                      "data": {"name": "outliers"},
                      "transform": [{"filter": "datum.gene == 'LINC-ROR'"}],
                      "mark": {"type": "point", "shape": "M-1,0H1M0,-1V1", "filled": false, "stroke": "#FF0000", "strokeWidth": 1.2, "size": 49, "opacity": 1},
                      "encoding": {
                        "x": {"field": "group", "type": "nominal"},
                        "xOffset": {"field": "sex", "type": "nominal", "scale": {"type": "band", "domain": ["Male", "Female"], "paddingInner": 0.095, "paddingOuter": 0.365}},
                        "y": {"field": "value", "type": "quantitative"}
                      }
                    },
                    {
                      "data": {"name": "points"},
                      "transform": [{"filter": "datum.gene == 'LINC-ROR'"}],
                      "mark": {"type": "circle", "size": 34, "fill": "#626262", "fillOpacity": 0.78, "stroke": "#222222", "strokeWidth": 0.9, "strokeOpacity": 0.9},
                      "encoding": {
                        "x": {"field": "group", "type": "nominal"},
                        "xOffset": {"field": "jitter", "type": "quantitative", "scale": {"domain": [-0.5, 0.5]}},
                        "y": {"field": "value", "type": "quantitative"}
                      }
                    }
                  ]
                }
              ]
            }
          ]
        }
      ]
    }
  ],
  "config": {
    "font": "Liberation Sans",
    "axis": {
      "labelFont": "Liberation Sans",
      "labelFontSize": 15,
      "labelFontWeight": "bold",
      "labelColor": "#000000",
      "tickColor": "#333333",
      "tickSize": 4,
      "tickWidth": 1,
      "labelPadding": 5,
      "domain": false,
      "gridColor": "#E6E6E6",
      "gridWidth": 1.2
    },
    "axisX": {
      "grid": true,
      "bandPosition": 0.5,
      "labelAngle": 0,
      "minExtent": 25,
      "maxExtent": 25
    },
    "axisY": {
      "minExtent": 25,
      "maxExtent": 25,
      "labelExpr": "datum.value % 5 === 0 ? toString(datum.value) : ''",
      "gridColor": {"condition": {"test": "datum.value % 5 !== 0", "value": "#F2F2F2"}, "value": "#E6E6E6"},
      "tickOpacity": {"condition": {"test": "datum.value % 5 !== 0", "value": 0}, "value": 1}
    },
    "legend": {"labelFont": "Liberation Sans"}
  }
}
